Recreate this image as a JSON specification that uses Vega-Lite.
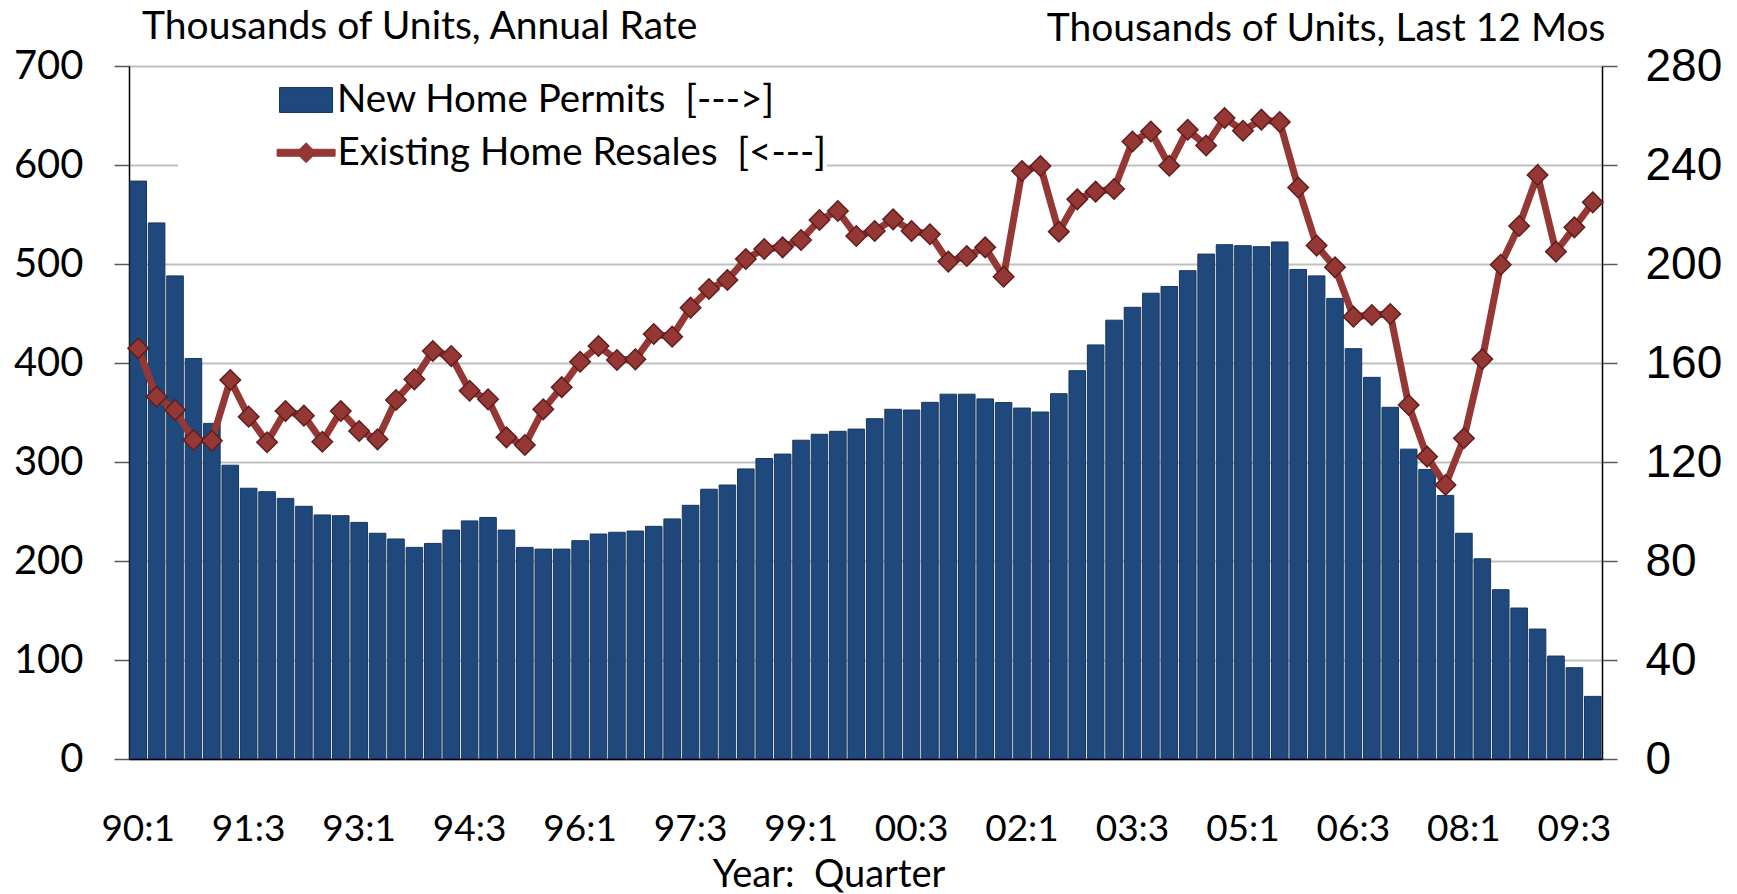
{
  "$schema": "https://vega.github.io/schema/vega-lite/v6.json",
  "width": 1473,
  "height": 693,
  "autosize": "none",
  "padding": {"left": 129, "top": 66, "right": 135, "bottom": 135},
  "background": "white",
  "config": {"view": {"stroke": null}, "font": "Lato"},
  "data": {"values": [
    {"q": "90:1", "permits": 233.5, "resales": 414.8},
    {"q": "90:2", "permits": 216.6, "resales": 366.0},
    {"q": "90:3", "permits": 195.2, "resales": 352.5},
    {"q": "90:4", "permits": 161.8, "resales": 322.2},
    {"q": "91:1", "permits": 135.6, "resales": 321.5},
    {"q": "91:2", "permits": 118.7, "resales": 382.8},
    {"q": "91:3", "permits": 109.4, "resales": 345.8},
    {"q": "91:4", "permits": 108.0, "resales": 319.9},
    {"q": "92:1", "permits": 105.3, "resales": 351.5},
    {"q": "92:2", "permits": 102.1, "resales": 346.8},
    {"q": "92:3", "permits": 98.6, "resales": 320.5},
    {"q": "92:4", "permits": 98.3, "resales": 351.5},
    {"q": "93:1", "permits": 95.6, "resales": 331.3},
    {"q": "93:2", "permits": 91.2, "resales": 322.9},
    {"q": "93:3", "permits": 88.9, "resales": 362.6},
    {"q": "93:4", "permits": 85.5, "resales": 383.5},
    {"q": "94:1", "permits": 87.1, "resales": 412.1},
    {"q": "94:2", "permits": 92.5, "resales": 407.0},
    {"q": "94:3", "permits": 96.2, "resales": 372.0},
    {"q": "94:4", "permits": 97.6, "resales": 363.3},
    {"q": "95:1", "permits": 92.5, "resales": 324.9},
    {"q": "95:2", "permits": 85.5, "resales": 317.2},
    {"q": "95:3", "permits": 84.8, "resales": 353.2},
    {"q": "95:4", "permits": 84.8, "resales": 375.6},
    {"q": "96:1", "permits": 88.2, "resales": 401.3},
    {"q": "96:2", "permits": 90.9, "resales": 417.2},
    {"q": "96:3", "permits": 91.6, "resales": 403.0},
    {"q": "96:4", "permits": 92.1, "resales": 403.7},
    {"q": "97:1", "permits": 94.0, "resales": 429.3},
    {"q": "97:2", "permits": 97.0, "resales": 426.6},
    {"q": "97:3", "permits": 102.5, "resales": 455.9},
    {"q": "97:4", "permits": 109.0, "resales": 474.7},
    {"q": "98:1", "permits": 110.7, "resales": 483.8},
    {"q": "98:2", "permits": 117.2, "resales": 505.0},
    {"q": "98:3", "permits": 121.4, "resales": 515.2},
    {"q": "98:4", "permits": 123.2, "resales": 516.8},
    {"q": "99:1", "permits": 128.8, "resales": 524.2},
    {"q": "99:2", "permits": 131.2, "resales": 544.4},
    {"q": "99:3", "permits": 132.4, "resales": 553.5},
    {"q": "99:4", "permits": 133.3, "resales": 528.3},
    {"q": "00:1", "permits": 137.5, "resales": 533.3},
    {"q": "00:2", "permits": 141.3, "resales": 545.1},
    {"q": "00:3", "permits": 141.0, "resales": 533.3},
    {"q": "00:4", "permits": 144.1, "resales": 530.0},
    {"q": "01:1", "permits": 147.4, "resales": 502.4},
    {"q": "01:2", "permits": 147.4, "resales": 508.1},
    {"q": "01:3", "permits": 145.5, "resales": 516.8},
    {"q": "01:4", "permits": 144.0, "resales": 487.2},
    {"q": "02:1", "permits": 141.8, "resales": 593.9},
    {"q": "02:2", "permits": 140.2, "resales": 599.0},
    {"q": "02:3", "permits": 147.6, "resales": 532.7},
    {"q": "02:4", "permits": 156.9, "resales": 565.3},
    {"q": "03:1", "permits": 167.3, "resales": 573.1},
    {"q": "03:2", "permits": 177.3, "resales": 575.8},
    {"q": "03:3", "permits": 182.5, "resales": 623.7},
    {"q": "03:4", "permits": 188.2, "resales": 633.9},
    {"q": "04:1", "permits": 190.9, "resales": 599.3},
    {"q": "04:2", "permits": 197.3, "resales": 635.6},
    {"q": "04:3", "permits": 204.0, "resales": 619.7},
    {"q": "04:4", "permits": 207.8, "resales": 647.5},
    {"q": "05:1", "permits": 207.4, "resales": 634.6},
    {"q": "05:2", "permits": 207.0, "resales": 645.8},
    {"q": "05:3", "permits": 208.9, "resales": 643.4},
    {"q": "05:4", "permits": 197.8, "resales": 577.3},
    {"q": "06:1", "permits": 195.2, "resales": 518.6},
    {"q": "06:2", "permits": 186.1, "resales": 496.6},
    {"q": "06:3", "permits": 165.8, "resales": 446.8},
    {"q": "06:4", "permits": 154.2, "resales": 448.5},
    {"q": "07:1", "permits": 142.1, "resales": 449.5},
    {"q": "07:2", "permits": 125.2, "resales": 357.6},
    {"q": "07:3", "permits": 117.0, "resales": 305.4},
    {"q": "07:4", "permits": 106.5, "resales": 276.8},
    {"q": "08:1", "permits": 91.2, "resales": 324.0},
    {"q": "08:2", "permits": 80.9, "resales": 404.0},
    {"q": "08:3", "permits": 68.4, "resales": 499.3},
    {"q": "08:4", "permits": 61.0, "resales": 538.4},
    {"q": "09:1", "permits": 52.5, "resales": 589.9},
    {"q": "09:2", "permits": 41.6, "resales": 512.5},
    {"q": "09:3", "permits": 36.9, "resales": 537.0},
    {"q": "09:4", "permits": 25.3, "resales": 562.3}
  ]},
  "encoding": {
    "x": {
      "field": "q", "type": "ordinal", "sort": null,
      "scale": {"paddingInner": 0.1, "paddingOuter": 0.05},
      "axis": {
        "values": ["90:1","91:3","93:1","94:3","96:1","97:3","99:1","00:3","02:1","03:3","05:1","06:3","08:1","09:3"],
        "labelAngle": 0, "ticks": false, "labelPadding": 52,
        "labelFont": "Lato", "labelFontSize": 37, "labelColor": "black",
        "domainColor": "black", "domainWidth": 1.5, "zindex": 1,
        "title": "Year:\u00a0 Quarter", "titleFont": "Lato", "titleFontSize": 38, "titleFontWeight": "normal",
        "titleColor": "black", "titleX": 699.5, "titleY": 127, "titleAlign": "center", "titleBaseline": "alphabetic"
      }
    }
  },
  "layer": [
    {
      "mark": {"type": "bar", "stroke": "#17375e", "strokeWidth": 1},
      "encoding": {
        "y": {
          "field": "permits", "type": "quantitative",
          "scale": {"domain": [0, 280], "nice": false},
          "axis": {
            "orient": "right", "values": [0, 40, 80, 120, 160, 200, 240, 280], "grid": false,
            "domainColor": "black", "domainWidth": 1.5, "tickColor": "#595959", "tickSize": 15, "tickWidth": 1.5,
            "labelPadding": 28, "labelFont": "Liberation Sans", "labelFontSize": 46, "labelColor": "black",
            "title": "Thousands of Units, Last 12 Mos", "titleAngle": 0, "titleX": 3, "titleY": -26,
            "titleAlign": "right", "titleBaseline": "alphabetic", "titleFont": "Lato", "titleFontSize": 39,
            "titleFontWeight": "normal", "titleColor": "black"
          }
        },
        "fill": {
          "datum": "New Home Permits\u00a0 [--->]",
          "scale": {"range": ["#1F497D"]},
          "legend": {
            "title": null, "orient": "none", "legendX": 49, "legendY": 7,
            "fillColor": "white", "padding": 0, "symbolOffset": 101, "symbolSize": 2809,
            "symbolType": "M-1,-0.47L1,-0.47L1,0.47L-1,0.47Z",
            "symbolStrokeColor": "#17375e", "symbolStrokeWidth": 1, "symbolOpacity": 1,
            "labelOffset": 4,
            "labelFont": "Lato", "labelFontSize": 38.5, "labelColor": "black", "labelLimit": 3000,
            "labelExpr": "datum.label + '\u00a0\u00a0\u00a0\u00a0\u00a0\u00a0\u00a0\u00a0\u00a0\u00a0\u00a0\u00a0\u00a0\u00a0\u00a0\u00a0\u00a0\u00a0\u00a0\u00a0\u00a0'"
          }
        }
      }
    },
    {
      "encoding": {
        "y": {
          "field": "resales", "type": "quantitative",
          "scale": {"domain": [0, 700], "nice": false},
          "axis": {
            "orient": "left", "values": [0, 100, 200, 300, 400, 500, 600, 700], "grid": true,
            "gridColor": "#c0c0c0", "gridWidth": 2,
            "domainColor": "black", "domainWidth": 1.5, "tickColor": "#595959", "tickSize": 15, "tickWidth": 1.5,
            "labelPadding": 31, "labelFont": "Lato", "labelFontSize": 40, "labelColor": "black",
            "title": "Thousands of Units, Annual Rate", "titleAngle": 0, "titleX": 12.6, "titleY": -27.7,
            "titleAlign": "left", "titleBaseline": "alphabetic", "titleFont": "Lato", "titleFontSize": 39,
            "titleFontWeight": "normal", "titleColor": "black"
          }
        }
      },
      "layer": [
        {
          "mark": {"type": "line", "strokeWidth": 7},
          "encoding": {
            "stroke": {
              "datum": "Existing Home Resales\u00a0 [<---]",
              "scale": {"range": ["#953735"]},
              "legend": {
                "title": null, "orient": "none", "legendX": 49, "legendY": 57.25,
                "fillColor": "white", "padding": 0, "symbolOffset": 98.6, "symbolSize": 3364,
                "symbolType": "M-1,-0.12L1,-0.12L1,0.12L-1,0.12Z M0,-0.345L0.345,0L0,0.345L-0.345,0Z",
                "symbolFillColor": "#953735", "symbolStrokeColor": "#7a2b29", "symbolStrokeWidth": 1, "symbolOpacity": 1,
                "labelOffset": 2,
                "labelFont": "Lato", "labelFontSize": 38.5, "labelColor": "black", "labelLimit": 3000,
                "labelExpr": "datum.label + '\u00a0\u00a0\u00a0\u00a0\u00a0\u00a0\u00a0\u00a0\u00a0\u00a0\u00a0\u00a0\u00a0\u00a0'"
              }
            }
          }
        },
        {
          "mark": {"type": "point", "shape": "diamond", "filled": true, "size": 420, "fill": "#953735", "stroke": "#5e1f1d", "strokeWidth": 1.5, "opacity": 1}
        }
      ]
    }
  ],
  "resolve": {"scale": {"y": "independent"}}
}
